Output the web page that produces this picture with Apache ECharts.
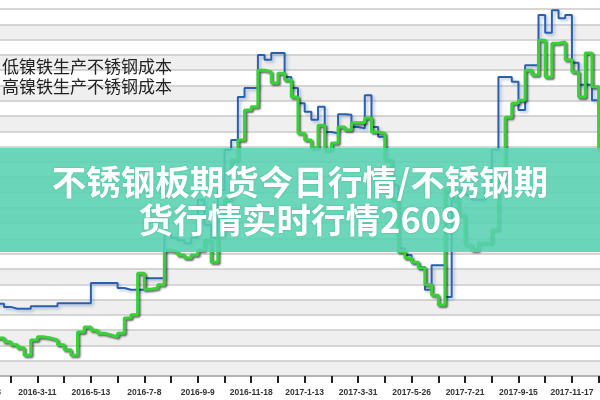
<!DOCTYPE html>
<html>
<head>
<meta charset="utf-8">
<script src="https://cdn.jsdelivr.net/npm/echarts@6/dist/echarts.min.js"></script>
<style>
html,body{margin:0;padding:0;background:#fff;}
#main{width:600px;height:400px;}
</style>
</head>
<body>
<div id="main"></div>
<script>
const tickLabels = ['2016-1-8','2016-3-11','2016-5-13','2016-7-8','2016-9-9','2016-11-18','2017-1-13','2017-3-31','2017-5-26','2017-7-21','2017-9-15','2017-11-17'];
const seriesNames = ['低镍铁生产不锈钢成本', '高镍铁生产不锈钢成本'];
const lowNiCost = [
  9180, 9180, 9180, 9130, 9100, 9100, 9100, 9140, 9140, 9140,
  9140, 9190, 9190, 9190, 9190, 9190, 9520, 9520, 9520, 9520,
  9440, 9410, 9410, 9410, 9600, 9600, 9600, 10310, 10260, 10220,
  10170, 10260, 10880, 10470, 10260, 11040, 11700, 11860, 12560, 12710,
  12710, 13250, 13170, 13280, 13280, 12890, 12710, 12460, 12320, 12190,
  12400, 11990, 11970, 12280, 12270, 12070, 12050, 12590, 12070, 11910,
  11530, 11120, 10090, 9980, 9860, 9780, 9410, 9810, 9810, 9290,
  10880, 11040, 10960, 10880, 10880, 11120, 11700, 12890, 12890, 12810,
  12350, 13080, 13080, 13900, 13610, 13980, 13850, 13900, 13120, 12760,
  12760, 12510, 12350, 12270, 12270
];
const highNiCost = [
  8620, 8620, 8620, 8560, 8510, 8460, 8340, 8590, 8640, 8620,
  8590, 8510, 8430, 8340, 8720, 8800, 8750, 8700, 8670, 8640,
  8700, 8950, 9000, 9680, 9420, 9440, 9490, 10060, 10030, 9980,
  9930, 9980, 10060, 10220, 9860, 10310, 10880, 11530, 11860, 12350,
  12400, 13000, 12970, 12790, 12950, 12840, 12560, 11970, 11860, 11730,
  12100, 11700, 11810, 12070, 12020, 12140, 12140, 12220, 11990, 11970,
  11530, 10880, 10030, 9930, 9860, 9770, 9490, 9320, 9160, 11040,
  10880, 10630, 10140, 10060, 10170, 10170, 10390, 11200, 12230, 12460,
  12510, 13000, 12920, 13490, 12890, 13440, 13460, 13170, 12970, 12560,
  13280, 12730, 11700, 11530, 11530
];
const titleText = '不锈钢板期货今日行情/不锈钢期\n货行情实时行情2609';

const categories = lowNiCost.map((_, i) => (i % 8 === 0 && tickLabels[i / 8]) ? tickLabels[i / 8] : '');

const chart = echarts.init(document.getElementById('main'), null, {renderer: 'canvas'});
chart.setOption({
  animation: false,
  backgroundColor: '#ffffff',
  grid: {left: -16, right: -12, top: 9, bottom: 24, containLabel: false, outerBoundsMode: 'none'},
  legend: {
    orient: 'vertical', left: -29, top: 58, padding: 0,
    itemWidth: 25, itemHeight: 3, itemGap: 3,
    textStyle: {fontSize: 17, lineHeight: 17, color: '#222', fontFamily: 'Noto Sans CJK SC'},
    data: seriesNames
  },
  title: {
    text: titleText, left: 'center', top: 158, z: 20,
    textStyle: {fontSize: 34.5, lineHeight: 38, fontWeight: 'bold', color: '#ffffff', fontFamily: 'Noto Sans CJK SC',
      textShadowColor: 'rgba(0,80,60,0.25)', textShadowBlur: 2}
  },
  graphic: [{
    type: 'rect', z: 15, left: 0, top: 148,
    shape: {width: 600, height: 104},
    style: {fill: 'rgba(88,210,176,0.88)'}
  }],
  xAxis: {
    type: 'category', boundaryGap: false, data: categories,
    axisLine: {lineStyle: {color: '#aaaaaa', width: 1.5}},
    axisTick: {interval: 3, length: 7, inside: false, lineStyle: {color: '#222', width: 2}},
    axisLabel: {interval: 7, margin: 12, fontSize: 8.5, fontWeight: 'bold', color: '#333', fontFamily: 'Liberation Sans', hideOverlap: false},
    splitLine: {show: false}
  },
  yAxis: {
    type: 'value', min: 8000, max: 14000, interval: 250,
    axisLabel: {show: false}, axisLine: {show: false}, axisTick: {show: false},
    splitLine: {lineStyle: {color: '#c8c8c8', width: 1.5}},
    splitArea: {show: true, areaStyle: {color: ['#efefef', '#ffffff']}}
  },
  series: [
    {
      name: seriesNames[0], type: 'line', step: 'end', data: lowNiCost, showSymbol: false,
      lineStyle: {color: '#2a5fae', width: 2, shadowColor: 'rgba(40,90,170,0.35)', shadowBlur: 3, shadowOffsetX: 2, shadowOffsetY: 2},
      itemStyle: {color: '#2a5fae'}
    },
    {
      name: seriesNames[1], type: 'line', step: 'end', data: highNiCost, showSymbol: false,
      lineStyle: {color: '#36d236', width: 3, shadowColor: 'rgba(0,0,0,0.6)', shadowBlur: 2, shadowOffsetX: 1.5, shadowOffsetY: 1.5},
      itemStyle: {color: '#36d236'}
    }
  ]
});
</script>
</body>
</html>
